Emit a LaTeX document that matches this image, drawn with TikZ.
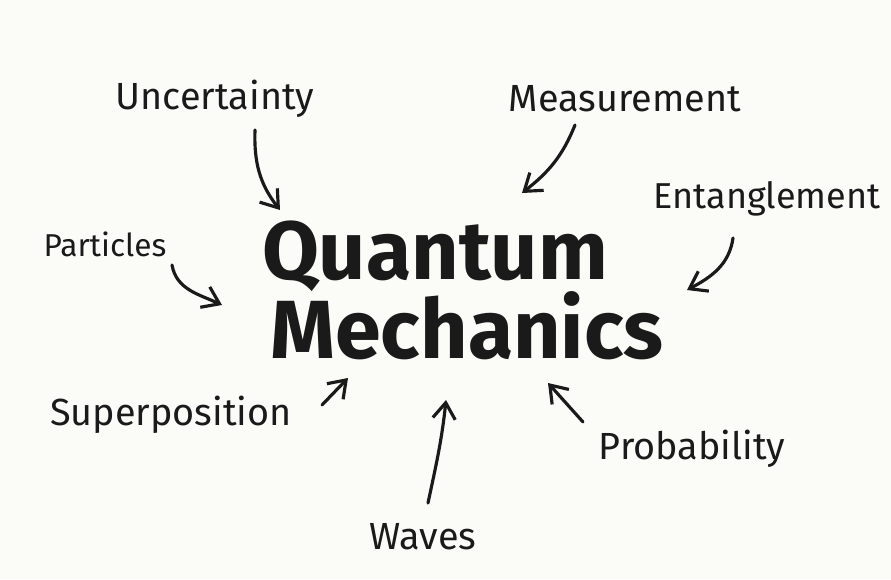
\documentclass[tikz,border=0pt]{standalone}
\usepackage{fontspec}
\setmainfont{Fira Sans}
\usepackage{tikz}
\usetikzlibrary{arrows.meta,positioning}
\definecolor{PaperWhite}{HTML}{FBFBF8}
\definecolor{InkBlack}{HTML}{1A1A1A}
\tikzset{
  termnode/.style={text=InkBlack,inner sep=0pt,font=\fontsize{21.5}{25}\selectfont},
  titlenode/.style={text=InkBlack,inner sep=0pt,font=\fontsize{47}{52}\selectfont\bfseries},
  inkarrow/.style={-{Straight Barb[length=3.2mm,width=4.5mm]},line width=1.8pt,draw=InkBlack,line cap=round}
}
\begin{document}
\begin{tikzpicture}[x=0.02cm,y=0.02cm]
\fill[PaperWhite] (0,0) rectangle (891,579);
\useasboundingbox (0,0) rectangle (891,579);
% centre title
\node[titlenode] (quant) at (435,323) {Quantum};
\node[titlenode] (mech) at (467,253) {Mechanics};
% surrounding terms
\node[termnode] (unc) at (215,480) {Uncertainty};
\node[termnode] (meas) at (625,480) {Measurement};
\node[termnode,font=\fontsize{20.5}{24}\selectfont] (ent) at (767,380) {Entanglement};
\node[termnode,font=\fontsize{18}{22}\selectfont] (part) at (105,335) {Particles};
\node[termnode] (sup) at (171,164) {Superposition};
\node[termnode] (wav) at (423,42) {Waves};
\node[termnode] (prob) at (692,130) {Probability};
% arrow ends
\coordinate (uncA) at (255,449);  \coordinate (uncB) at (280,369);
\coordinate (measA) at (575,454); \coordinate (measB) at (522,386);
\coordinate (entA) at (733,341);  \coordinate (entB) at (687,289);
\coordinate (partA) at (172,314); \coordinate (partB) at (222,274);
\coordinate (supA) at (322,174);  \coordinate (supB) at (348,201);
\coordinate (wavA) at (428,76);   \coordinate (wavB) at (446,179);
\coordinate (probA) at (583,157); \coordinate (probB) at (548,196);
\draw[inkarrow] (uncA) to[out=268,in=128] (uncB);
\draw[inkarrow] (measA) to[out=248,in=38] (measB);
\draw[inkarrow] (entA) to[out=262,in=28] (entB);
\draw[inkarrow] (partA) to[out=280,in=155] (partB);
\draw[inkarrow] (supA) -- (supB);
\draw[inkarrow] (wavA) to[out=78,in=264] (wavB);
\draw[inkarrow] (probA) -- (probB);
\end{tikzpicture}
\end{document}
